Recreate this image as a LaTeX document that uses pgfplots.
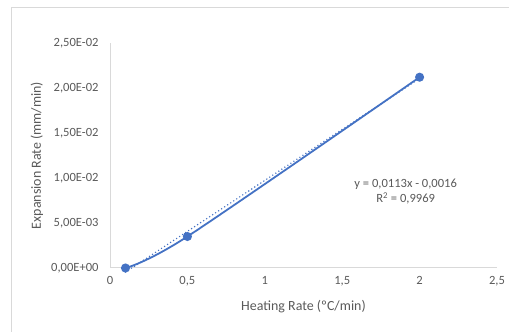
\documentclass[border=0pt]{standalone}
\usepackage{pgfplots}
\pgfplotsset{compat=1.18}
\usepackage{fontspec}
\setmainfont{Carlito}
\definecolor{txt}{RGB}{89,89,89}
\definecolor{axl}{RGB}{217,217,217}
\definecolor{bord}{RGB}{217,217,217}
\definecolor{ser}{RGB}{68,114,196}
\begin{document}
\begin{tikzpicture}
\path[use as bounding box] (0,0) rectangle (509bp,332bp);
\draw[bord, line width=0.8bp] (11bp,-2bp) -- (11bp,325bp) -- (512bp,325bp);
\begin{axis}[
  at={(110bp,64bp)}, anchor=south west,
  scale only axis, width=387bp, height=225bp,
  xmin=0, xmax=2.5, ymin=0, ymax=0.025,
  axis x line=bottom, axis y line=left,
  axis line style={-, axl, line width=1bp},
  major tick length=0pt,
  xtick={0,0.5,1,1.5,2,2.5},
  xticklabels={0,{0,5},1,{1,5},2,{2,5}},
  ytick={0,0.005,0.01,0.015,0.02,0.025},
  yticklabels={{0,00E+00},{5,00E-03},{1,00E-02},{1,50E-02},{2,00E-02},{2,50E-02}},
  scaled y ticks=false,
  tick label style={font=\fontsize{12.6}{14}\selectfont, text=txt},
  yticklabel style={xshift=-8bp},
  xticklabel style={yshift=-5bp},
  xlabel={Heating Rate (ºC/min)},
  ylabel={Expansion Rate (mm/min)},
  label style={font=\fontsize{14}{16}\selectfont, text=txt},
  xlabel style={at={(axis description cs:0.5,0)}, anchor=center, yshift=-39bp},
  ylabel style={at={(axis description cs:0,0.5)}, anchor=center, yshift=73bp},
  clip=false,
]
\addplot[ser, line width=1.8bp, smooth, mark=*, mark size=3.6bp, mark options={fill=ser, draw=ser, solid}]
  coordinates {(0.1,0) (0.5,0.0035) (2,0.0212)};
\addplot[ser, line width=1.6bp, line cap=round, dash pattern=on 0pt off 3.6bp, no marks]
  coordinates {(0.1,-0.00046) (2,0.02106)};
\node[text=txt, font=\fontsize{12.6}{15}\selectfont, align=center] at (axis cs:1.91,0.0085) {y = 0,0113x - 0,0016\\R\textsuperscript{2} = 0,9969};
\end{axis}
\end{tikzpicture}
\end{document}
